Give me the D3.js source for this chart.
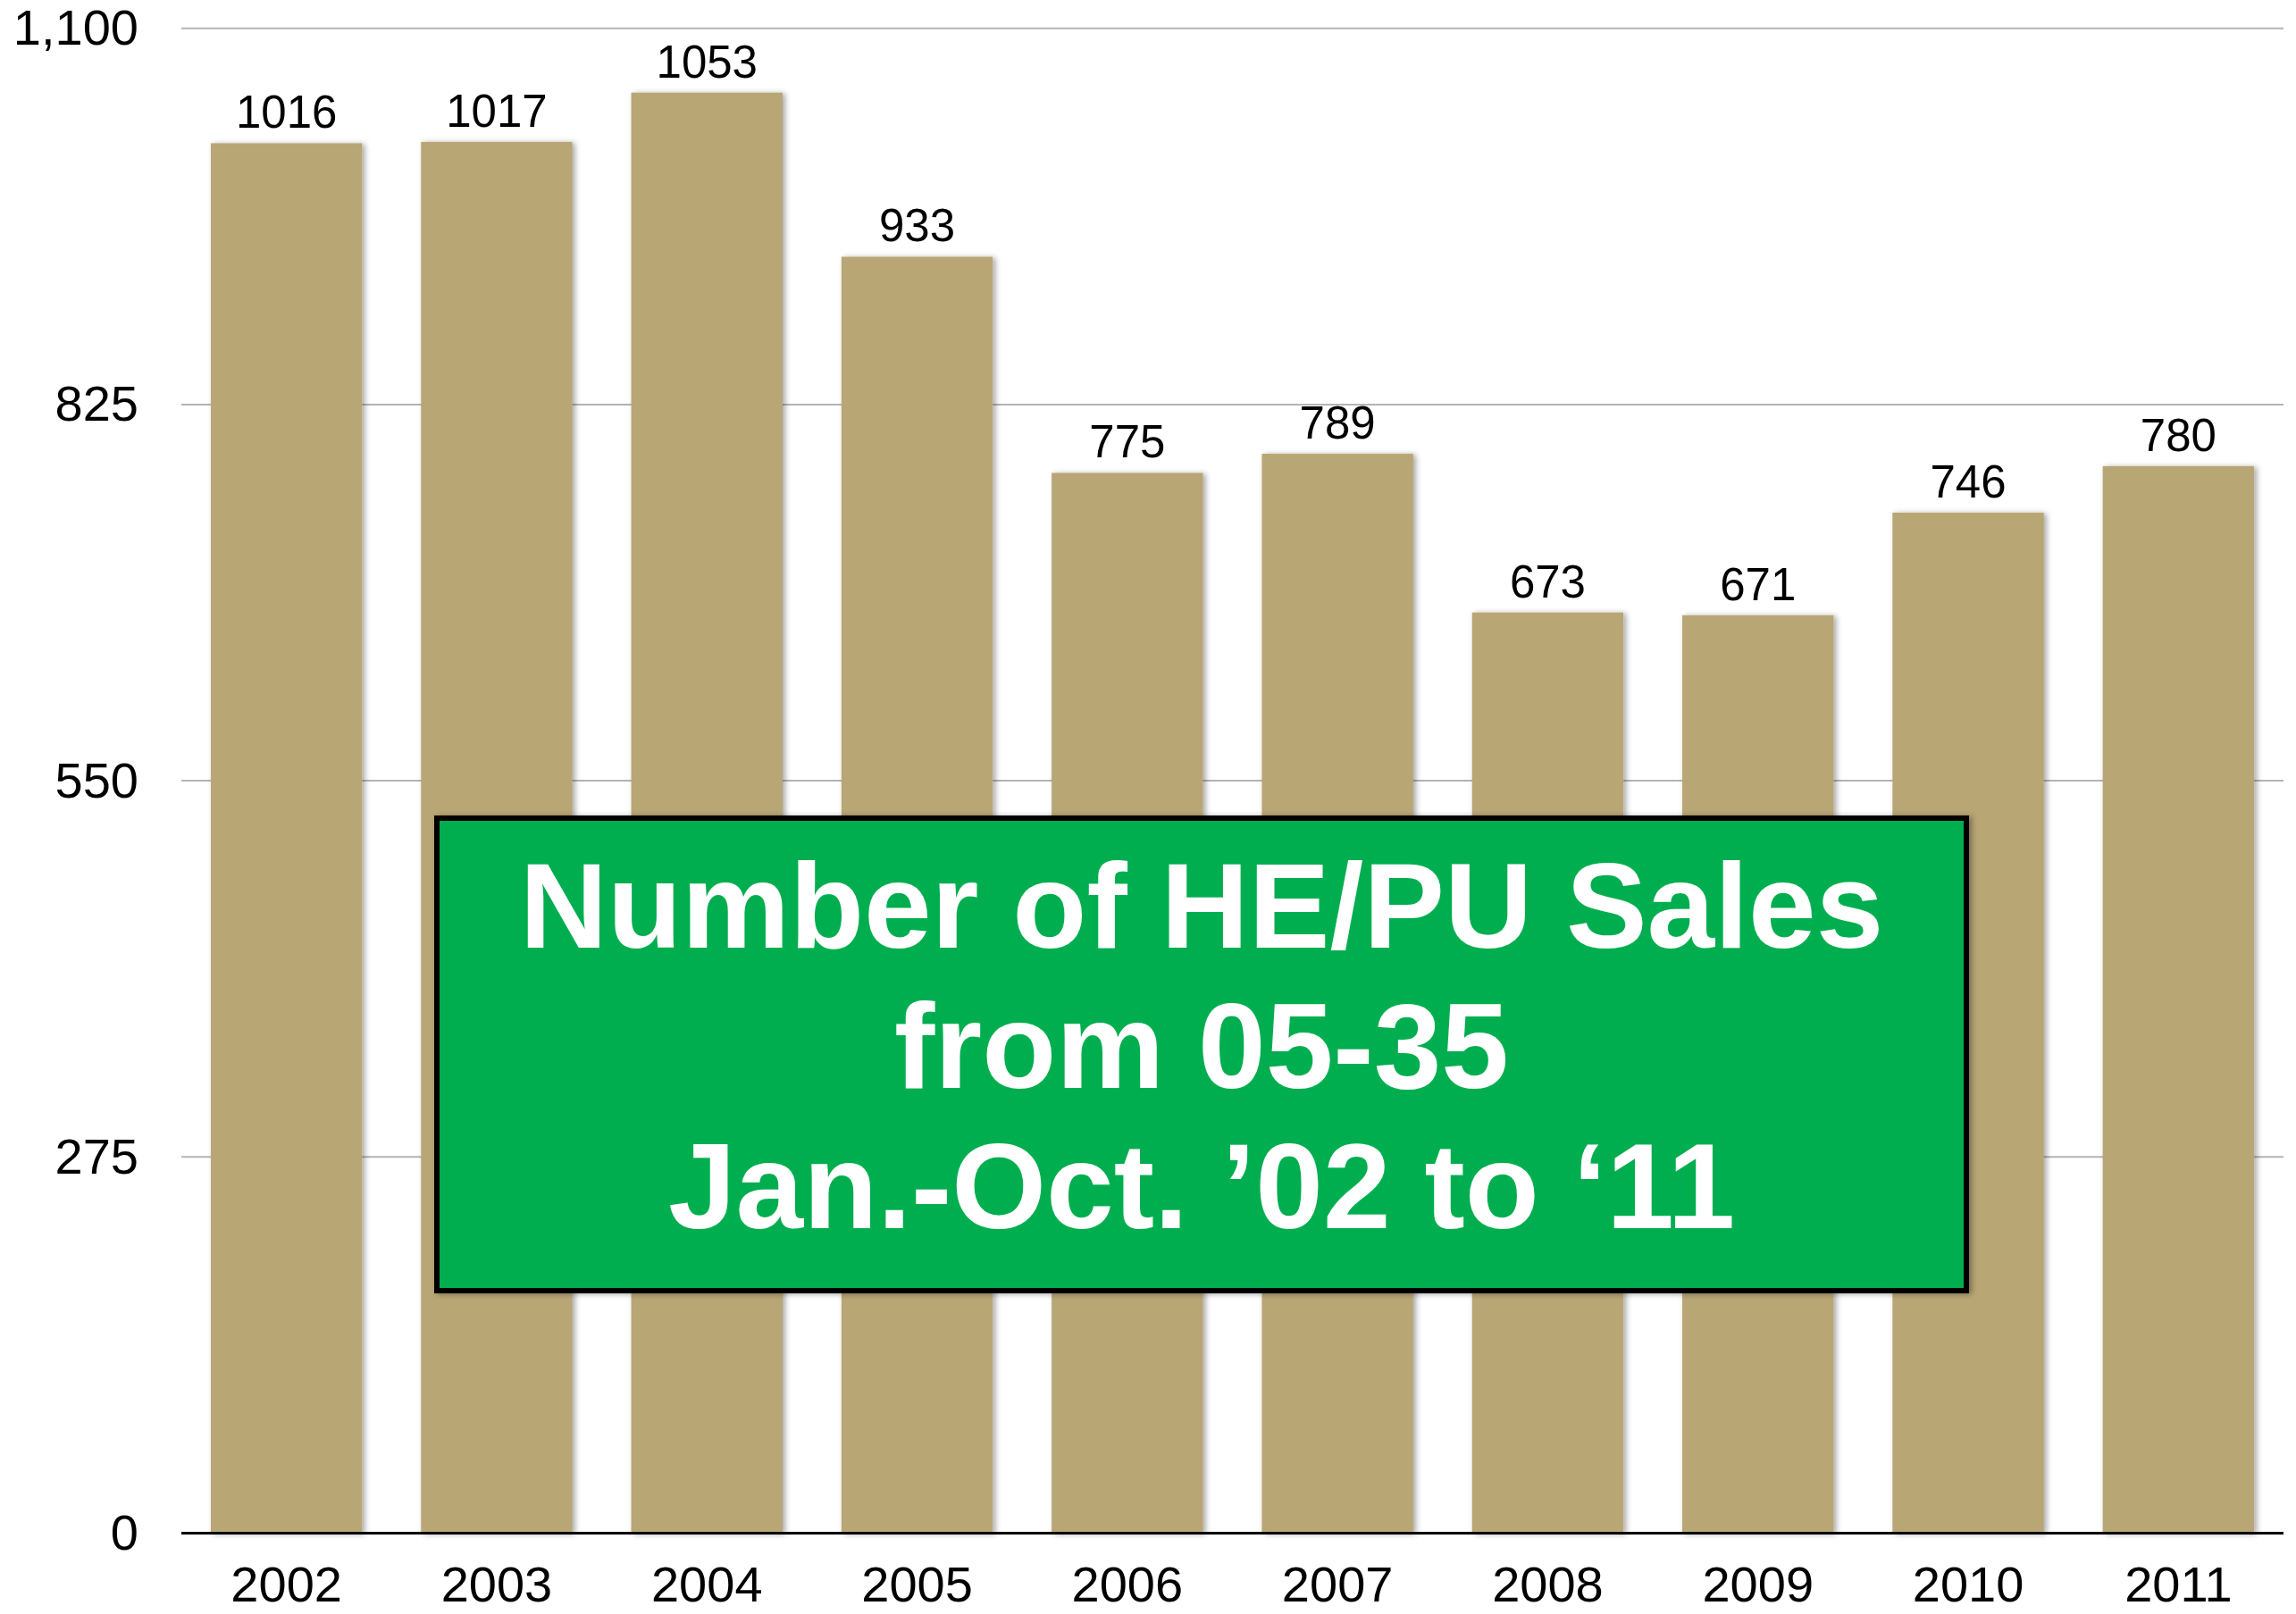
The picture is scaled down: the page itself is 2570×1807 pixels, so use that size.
<!DOCTYPE html>
<html>
<head>
<meta charset="utf-8">
<script src="https://cdn.jsdelivr.net/npm/d3@7"></script>
<style>
  html, body { margin: 0; padding: 0; background: #fff; }
  svg { display: block; }
</style>
</head>
<body>
<div id="chart"></div>
<script>
// ---------- data ----------
var years = ["2002", "2003", "2004", "2005", "2006", "2007", "2008", "2009", "2010", "2011"];
var sales = [1016, 1017, 1053, 933, 775, 789, 673, 671, 746, 780];
var yTicks = [0, 275, 550, 825, 1100];
var titleLines = ["Number of HE/PU Sales", "from 05-35", "Jan.-Oct. \u201902 to \u201811"];

// plot area (note: "top" is taken by window.top, so use other names)
var W = 2570, H = 1807,
    plotLeft = 203, plotRight = 2556,
    plotTop = 31.7, plotBottom = 1716.5;

var font = "'Liberation Sans', Arial, Helvetica, sans-serif";

var svg = d3.select("#chart").append("svg")
    .attr("width", W)
    .attr("height", H);

// shadow for bars and box
var defs = svg.append("defs");
defs.append("filter")
    .attr("id", "shadow")
    .attr("x", "-10%").attr("y", "-10%")
    .attr("width", "130%").attr("height", "130%")
  .append("feDropShadow")
    .attr("dx", 3).attr("dy", 1)
    .attr("stdDeviation", 3)
    .attr("flood-color", "#000")
    .attr("flood-opacity", 0.35);

var x = d3.scaleBand()
    .domain(years)
    .range([plotLeft, plotRight])
    .paddingInner(0.28)
    .paddingOuter(0.14);

var y = d3.scaleLinear()
    .domain([0, 1100])
    .range([plotBottom, plotTop]);

// gridlines
svg.append("g")
    .selectAll("line")
    .data(yTicks.filter(function(d){ return d > 0; }))
    .enter().append("line")
    .attr("x1", plotLeft).attr("x2", plotRight)
    .attr("y1", function(d){ return y(d); })
    .attr("y2", function(d){ return y(d); })
    .style("stroke", "#b4b4b4")
    .style("stroke-width", 2);

// y axis labels
var yAxis = d3.axisLeft(y)
    .tickValues(yTicks)
    .tickSize(0)
    .tickPadding(48)
    .tickFormat(d3.format(","));

svg.append("g")
    .attr("transform", "translate(" + plotLeft + ",0)")
    .call(yAxis)
    .call(function(g){ g.select(".domain").remove(); })
    .selectAll("text")
    .style("font", "56px " + font)
    .style("fill", "#000");

// bars
svg.append("g")
    .selectAll("rect")
    .data(sales)
    .enter().append("rect")
    .attr("x", function(d, i){ return x(years[i]); })
    .attr("y", function(d){ return y(d); })
    .attr("width", x.bandwidth())
    .attr("height", function(d){ return plotBottom - y(d); })
    .style("fill", "#b9a675")
    .attr("filter", "url(#shadow)");

// value labels
svg.append("g")
    .selectAll("text")
    .data(sales)
    .enter().append("text")
    .attr("x", function(d, i){ return x(years[i]) + x.bandwidth() / 2; })
    .attr("y", function(d){ return y(d) - 17; })
    .attr("text-anchor", "middle")
    .style("font", "51px " + font)
    .style("fill", "#000")
    .text(function(d){ return d; });

// baseline
svg.append("line")
    .attr("x1", plotLeft).attr("x2", plotRight)
    .attr("y1", plotBottom).attr("y2", plotBottom)
    .style("stroke", "#000")
    .style("stroke-width", 3);

// x axis labels
var xAxis = d3.axisBottom(x).tickSize(0).tickPadding(0);
svg.append("g")
    .attr("transform", "translate(0," + plotBottom + ")")
    .call(xAxis)
    .call(function(g){ g.select(".domain").remove(); })
    .selectAll("text")
    .attr("dy", null)
    .attr("y", 76)
    .style("font", "56px " + font)
    .style("fill", "#000");

// green title box
var box = { x0: 486, x1: 2204, y0: 913, y1: 1448 };
svg.append("rect")
    .attr("x", box.x0 + 3)
    .attr("y", box.y0 + 3)
    .attr("width", box.x1 - box.x0 - 6)
    .attr("height", box.y1 - box.y0 - 6)
    .style("fill", "#00ae4f")
    .style("stroke", "#000")
    .style("stroke-width", 6)
    .attr("filter", "url(#shadow)");

svg.append("g")
    .selectAll("text")
    .data(titleLines)
    .enter().append("text")
    .attr("x", (box.x0 + box.x1) / 2)
    .attr("y", function(d, i){ return 1061 + i * 157; })
    .attr("text-anchor", "middle")
    .style("font", "bold 136px " + font)
    .style("fill", "#fff")
    .text(function(d){ return d; });
</script>
</body>
</html>
